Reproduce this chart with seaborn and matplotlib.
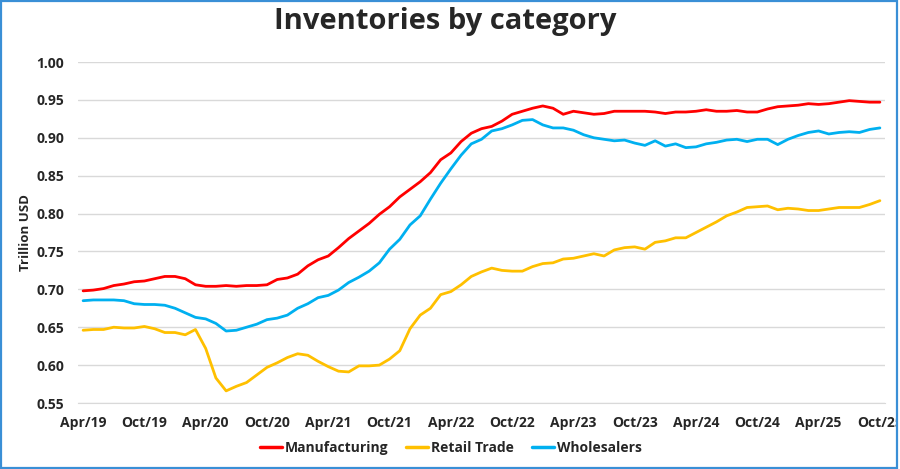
import matplotlib
matplotlib.use('Agg')
import matplotlib.pyplot as plt
from matplotlib.patches import Rectangle
import seaborn as sns
import pandas as pd
import numpy as np

# monthly data, Apr/19 .. Oct/25 (trillion USD)
manufacturing = [
    0.698, 0.699, 0.701, 0.705, 0.707, 0.710, 0.711, 0.714, 0.717,  # 2019
    0.717, 0.714, 0.706, 0.704, 0.704, 0.705, 0.704, 0.705, 0.705, 0.706, 0.713, 0.715,  # 2020
    0.720, 0.731, 0.739, 0.744, 0.755, 0.767, 0.777, 0.787, 0.799, 0.809, 0.822, 0.832,  # 2021
    0.842, 0.854, 0.871, 0.880, 0.895, 0.906, 0.912, 0.915, 0.922, 0.931, 0.935, 0.939,  # 2022
    0.942, 0.939, 0.931, 0.935, 0.933, 0.931, 0.932, 0.935, 0.935, 0.935, 0.935, 0.934,  # 2023
    0.932, 0.934, 0.934, 0.935, 0.937, 0.935, 0.935, 0.936, 0.934, 0.934, 0.938, 0.941,  # 2024
    0.942, 0.943, 0.945, 0.944, 0.945, 0.947, 0.949, 0.948, 0.947, 0.947,  # 2025
]
retail_trade = [
    0.646, 0.647, 0.647, 0.650, 0.649, 0.649, 0.651, 0.648, 0.643,
    0.643, 0.640, 0.647, 0.622, 0.583, 0.566, 0.572, 0.577, 0.587, 0.597, 0.603, 0.610,
    0.615, 0.613, 0.605, 0.598, 0.592, 0.591, 0.599, 0.599, 0.600, 0.608, 0.619, 0.648,
    0.666, 0.675, 0.693, 0.697, 0.706, 0.717, 0.723, 0.728, 0.725, 0.724, 0.724, 0.730,
    0.734, 0.735, 0.740, 0.741, 0.744, 0.747, 0.744, 0.752, 0.755, 0.756, 0.753, 0.762,
    0.764, 0.768, 0.768, 0.775, 0.782, 0.789, 0.797, 0.802, 0.808, 0.809, 0.810, 0.805,
    0.807, 0.806, 0.804, 0.804, 0.806, 0.808, 0.808, 0.808, 0.812, 0.817,
]
wholesalers = [
    0.685, 0.686, 0.686, 0.686, 0.685, 0.681, 0.680, 0.680, 0.679,
    0.675, 0.669, 0.663, 0.661, 0.655, 0.645, 0.646, 0.650, 0.654, 0.660, 0.662, 0.666,
    0.675, 0.681, 0.689, 0.692, 0.699, 0.709, 0.716, 0.724, 0.735, 0.753, 0.766, 0.785,
    0.797, 0.819, 0.840, 0.859, 0.877, 0.892, 0.898, 0.909, 0.912, 0.917, 0.923, 0.924,
    0.917, 0.913, 0.913, 0.910, 0.904, 0.900, 0.898, 0.896, 0.897, 0.893, 0.890, 0.896,
    0.889, 0.892, 0.887, 0.888, 0.892, 0.894, 0.897, 0.898, 0.895, 0.898, 0.898, 0.891,
    0.898, 0.903, 0.907, 0.909, 0.905, 0.907, 0.908, 0.907, 0.911, 0.913,
]
tick_labels = ['Apr/19', 'Oct/19', 'Apr/20', 'Oct/20', 'Apr/21', 'Oct/21', 'Apr/22',
               'Oct/22', 'Apr/23', 'Oct/23', 'Apr/24', 'Oct/24', 'Apr/25', 'Oct/25']
series_names = ['Manufacturing', 'Retail Trade', 'Wholesalers']
colors = ['#FF0000', '#FFC000', '#00B0F0']

months = np.arange(len(manufacturing))
df = pd.DataFrame({'month': months,
                   'Manufacturing': manufacturing,
                   'Retail Trade': retail_trade,
                   'Wholesalers': wholesalers})
long_df = df.melt(id_vars='month', var_name='category', value_name='value')

sns.set_style('white')
plt.rcParams['font.family'] = ['Open Sans', 'DejaVu Sans']

fig = plt.figure(figsize=(9, 4.69), dpi=100)
ax = fig.add_axes([78 / 900, 1 - 403 / 469, (885 - 78) / 900, (403 - 62) / 469])

sns.lineplot(data=long_df, x='month', y='value', hue='category', hue_order=series_names,
             palette=colors, linewidth=2.0, ax=ax, legend=True)

ax.set_ylim(0.55, 1.0)
yt = np.arange(0.55, 1.001, 0.05)
ax.set_yticks(yt)
ax.set_yticklabels([f'{v:.2f}' for v in yt], fontsize=10, fontweight='bold')
ax.yaxis.grid(True, color='#d9d9d9', linewidth=1)
ax.set_axisbelow(True)

ax.set_xlim(-0.5, len(months) - 0.5)
label_pos = np.arange(0, len(months), 6)
ax.set_xticks(label_pos)
ax.set_xticklabels(tick_labels, fontsize=10, fontweight='bold')
ax.set_xticks(label_pos - 0.5, minor=True)
ax.tick_params(axis='x', which='major', length=0, pad=9)
ax.tick_params(axis='x', which='minor', length=4, color='#d9d9d9', width=1)
ax.tick_params(axis='y', length=0, pad=10)

for s in ['top', 'right', 'left']:
    ax.spines[s].set_visible(False)
ax.spines['bottom'].set_color('#d9d9d9')

ax.set_xlabel('')
ax.set_ylabel('Trillion USD', fontsize=9.5, fontweight='bold', labelpad=3)

# legend below the plot, centred like the original
handles, labels = ax.get_legend_handles_labels()
ax.get_legend().remove()
leg = fig.legend(handles, labels, loc='center', bbox_to_anchor=(0.501, 1 - 448 / 469), ncol=3,
                 frameon=False, fontsize=10, handlelength=1.6, columnspacing=1.3,
                 handletextpad=0.2)
for t in leg.get_texts():
    t.set_fontweight('bold')
for h in leg.get_lines():
    h.set_linewidth(2.5)

fig.text(0.495, 1 - 21 / 469, 'Inventories by category', ha='center', va='center',
         fontsize=21, fontweight='bold')

# blue frame around the picture, clipping the last label like the original
fig.patches.append(Rectangle((897 / 900, 0), 3 / 900, 1, transform=fig.transFigure,
                             facecolor='white', edgecolor='none', zorder=10))
fig.patches.append(Rectangle((1 / 900, 1 / 469), 896 / 900, 467 / 469, transform=fig.transFigure,
                             facecolor='none', edgecolor='#3a8fd6', linewidth=1.6, zorder=11))

fig.savefig('out.png', dpi=100)
